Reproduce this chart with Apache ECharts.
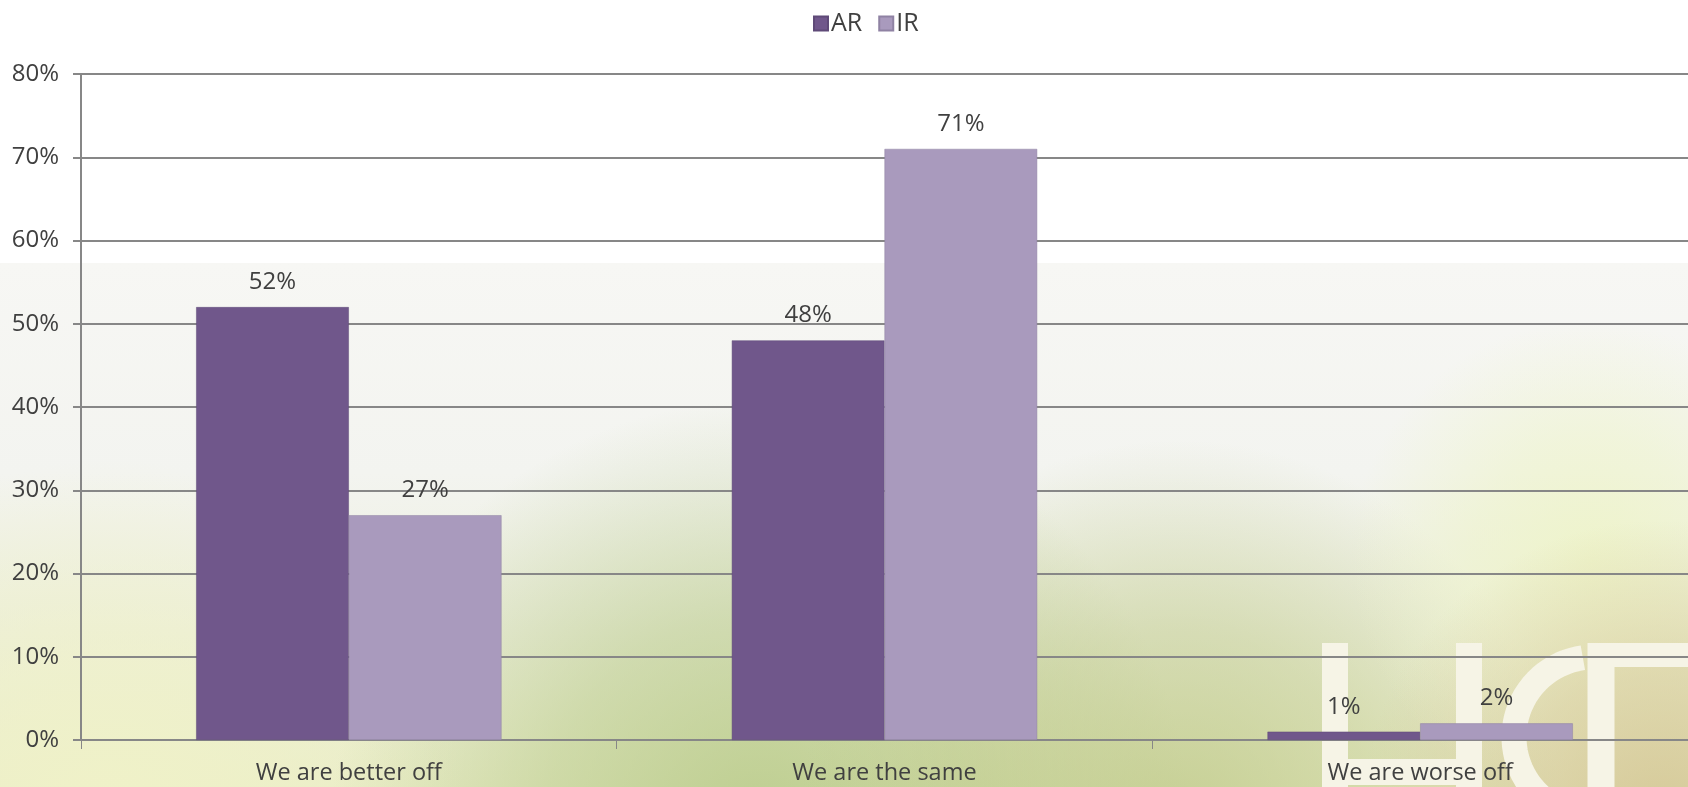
<!DOCTYPE html>
<html>
<head>
<meta charset="utf-8">
<script src="https://cdn.jsdelivr.net/npm/echarts@6/dist/echarts.min.js"></script>
<style>
  html, body { margin: 0; padding: 0; background: #ffffff; }
  #chart { width: 1688px; height: 787px; }
</style>
</head>
<body>
<div id="chart"></div>
<script>
// Survey answers, percent of respondents
const categories = ['We are better off', 'We are the same', 'We are worse off'];
const seriesNames = ['AR', 'IR'];
const arValues = [52, 48, 1];
const irValues = [27, 71, 2];
const yTicks = { min: 0, max: 80, interval: 10 };

const FONT = 'Open Sans';
const TEXT = '#404040';
const GRIDLINE = '#878787';
const LOGO = '#f6f4e6';
const chart = echarts.init(document.getElementById('chart'));

function glow(cx, cy, r, color, alpha) {
  return {
    type: 'circle', shape: { cx: cx, cy: cy, r: r }, silent: true, z: -15,
    style: { fill: new echarts.graphic.RadialGradient(0.5, 0.5, 0.5, [
      { offset: 0, color: 'rgba(' + color + ',' + alpha + ')' },
      { offset: 0.5, color: 'rgba(' + color + ',' + (alpha * 0.6) + ')' },
      { offset: 1, color: 'rgba(' + color + ',0)' }
    ]) }
  };
}

function stroke(points, width) {
  return { type: 'polyline', shape: { points: points }, silent: true, z: -10,
    style: { stroke: LOGO, lineWidth: width, fill: null, lineJoin: 'round' } };
}

// points along a circular arc, angles in degrees (screen coordinates, y down)
function arcPoints(cx, cy, r, fromDeg, toDeg) {
  const pts = [];
  const steps = 48;
  for (let i = 0; i <= steps; i++) {
    const a = (fromDeg + (toDeg - fromDeg) * i / steps) * Math.PI / 180;
    pts.push([cx + r * Math.cos(a), cy + r * Math.sin(a)]);
  }
  return pts;
}

const backdrop = [
  // plain white upper band
  { type: 'rect', shape: { x: 0, y: 0, width: 1688, height: 263 }, style: { fill: '#ffffff' }, z: -20, silent: true },
  // soft off-white fading into pale green
  { type: 'rect', shape: { x: 0, y: 263, width: 1688, height: 524 }, z: -19, silent: true,
    style: { fill: new echarts.graphic.LinearGradient(0, 0, 0, 1, [
      { offset: 0, color: '#f7f7f4' },
      { offset: 0.4, color: '#f3f4f0' },
      { offset: 0.7, color: '#eceedc' },
      { offset: 1, color: '#e9ecc8' }
    ]) } },
  glow(110, 820, 360, '240,242,200', 0.95),
  glow(760, 830, 430, '178,198,130', 0.8),
  glow(1180, 820, 380, '184,196,128', 0.7),
  glow(1590, 560, 240, '238,244,200', 0.9),
  glow(1660, 820, 300, '212,198,148', 0.9),
  // logo watermark: U
  stroke([[1335, 643], [1335, 800]], 26),
  stroke([[1335, 772], [1469, 772]], 26),
  stroke([[1469, 643], [1469, 800]], 26),
  // logo watermark: C
  stroke(arcPoints(1594, 737, 80, 60, 262), 25),
  // logo watermark: P
  stroke([[1601, 643], [1601, 800]], 27),
  stroke([[1588, 655], [1700, 655]], 24)
];

const labelStyle = {
  show: true,
  position: 'top',
  distance: 13,
  formatter: '{c}%',
  fontFamily: FONT,
  fontSize: 24,
  color: TEXT
};

chart.setOption({
  animation: false,
  backgroundColor: 'transparent',
  graphic: { elements: backdrop },
  legend: {
    top: 6,
    left: 808,
    itemWidth: 14,
    itemHeight: 14,
    itemGap: 16,
    icon: 'rect',
    textStyle: { fontFamily: FONT, fontSize: 25, color: TEXT, padding: [0, 0, 0, -2] },
    data: seriesNames
  },
  grid: { left: 81, top: 74, bottom: 47, width: 1614, containLabel: false },
  xAxis: {
    type: 'category',
    data: categories,
    axisLine: { show: true, lineStyle: { color: GRIDLINE, width: 2 } },
    axisTick: { show: true, length: 9, alignWithLabel: false, lineStyle: { color: GRIDLINE, width: 1 } },
    axisLabel: { fontFamily: FONT, fontSize: 23.5, color: TEXT, margin: 21 },
    splitLine: { show: false }
  },
  yAxis: {
    type: 'value',
    min: yTicks.min,
    max: yTicks.max,
    interval: yTicks.interval,
    axisLine: { show: true, lineStyle: { color: GRIDLINE, width: 2 } },
    axisTick: { show: true, length: 8, lineStyle: { color: GRIDLINE, width: 2 } },
    axisLabel: { formatter: '{value}%', fontFamily: FONT, fontSize: 24, color: TEXT, margin: 22 },
    splitLine: { show: true, lineStyle: { color: GRIDLINE, width: 2 } }
  },
  series: [
    {
      name: seriesNames[0],
      type: 'bar',
      data: arValues,
      barGap: '0%',
      barCategoryGap: '43%',
      itemStyle: { color: '#70578b', borderColor: '#5f4a78', borderWidth: 0.5 },
      label: labelStyle
    },
    {
      name: seriesNames[1],
      type: 'bar',
      data: irValues,
      barGap: '0%',
      barCategoryGap: '43%',
      itemStyle: { color: '#a99abd', borderColor: '#8f82a3', borderWidth: 0.5 },
      label: labelStyle
    }
  ]
});
</script>
</body>
</html>
